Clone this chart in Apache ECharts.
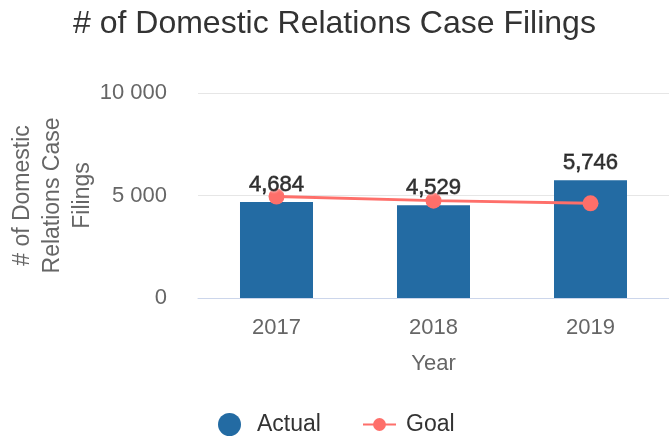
<!DOCTYPE html>
<html>
<head>
<meta charset="utf-8">
<script src="https://cdn.jsdelivr.net/npm/echarts@6/dist/echarts.min.js"></script>
<style>
html, body { margin: 0; padding: 0; background: #fff; }
#chart { width: 669px; height: 438px; }
</style>
</head>
<body>
<div id="chart"></div>
<script>
// data
const years = ['2017', '2018', '2019'];
const actual = [4684, 4529, 5746];
const goal = [4950, 4750, 4620];

const fontFamily = 'Liberation Sans, Arial, sans-serif';

function spaced(v) {
    return String(v).replace(/\B(?=(\d{3})+(?!\d))/g, ' ');
}

const option = {
    backgroundColor: '#fff',
    animation: false,
    textStyle: { fontFamily: fontFamily },
    title: {
        text: '# of Domestic Relations Case Filings',
        left: 68,
        top: 3,
        textStyle: { fontSize: 32, fontWeight: 'normal', color: '#333', fontFamily: fontFamily }
    },
    grid: { left: 198, right: 0, top: 93, bottom: 140, containLabel: false, outerBoundsMode: 'none' },
    legend: [
        {
            left: 218,
            top: 413,
            padding: 0,
            itemWidth: 33,
            itemHeight: 23,
            textStyle: { fontSize: 23, color: '#333', padding: [0, 0, 0, 6] },
            data: [{ name: 'Actual', icon: 'circle' }]
        },
        {
            left: 362,
            top: 413,
            padding: 0,
            itemWidth: 33,
            itemHeight: 16,
            textStyle: { fontSize: 23, color: '#333', padding: [0, 0, 0, 5] },
            data: [{ name: 'Goal' }]
        }
    ],
    xAxis: {
        type: 'category',
        data: years,
        name: 'Year',
        nameLocation: 'middle',
        nameGap: 55,
        nameMoveOverlap: false,
        nameTextStyle: { fontSize: 22, color: '#666' },
        axisLine: { lineStyle: { color: '#ccd6eb' } },
        axisTick: { show: false },
        axisLabel: { fontSize: 22, color: '#666', margin: 19 }
    },
    yAxis: {
        type: 'value',
        min: 0,
        max: 10000,
        interval: 5000,
        name: '# of Domestic\nRelations Case\nFilings',
        nameLocation: 'middle',
        nameRotate: 90,
        nameGap: 100,
        nameMoveOverlap: false,
        nameTextStyle: { fontSize: 23, color: '#666', lineHeight: 30 },
        axisLine: { show: false },
        axisTick: { show: false },
        splitLine: { lineStyle: { color: '#e6e6e6' } },
        axisLabel: { fontSize: 22, color: '#666', margin: 31, formatter: spaced }
    },
    series: [
        {
            name: 'Actual',
            type: 'bar',
            data: actual,
            barWidth: '46.5%',
            itemStyle: { color: '#236ba3' },
            z: 2
        },
        {
            name: 'Goal',
            type: 'line',
            data: goal,
            symbol: 'circle',
            symbolSize: 16,
            itemStyle: { color: '#fe6f6a' },
            lineStyle: { width: 3, color: '#fe6f6a' },
            z: 3
        },
        {
            // value labels drawn above everything
            name: 'labels',
            type: 'scatter',
            data: actual,
            symbolSize: 0,
            silent: true,
            label: {
                show: true,
                position: 'top',
                distance: 6,
                fontSize: 22,
                color: '#000',
                textBorderColor: '#000',
                textBorderWidth: 0.8,
                textShadowColor: '#fff',
                textShadowBlur: 3,
                formatter: function (p) { return p.value.toLocaleString('en-US'); }
            },
            z: 5
        }
    ]
};

echarts.init(document.getElementById('chart')).setOption(option);
</script>
</body>
</html>
